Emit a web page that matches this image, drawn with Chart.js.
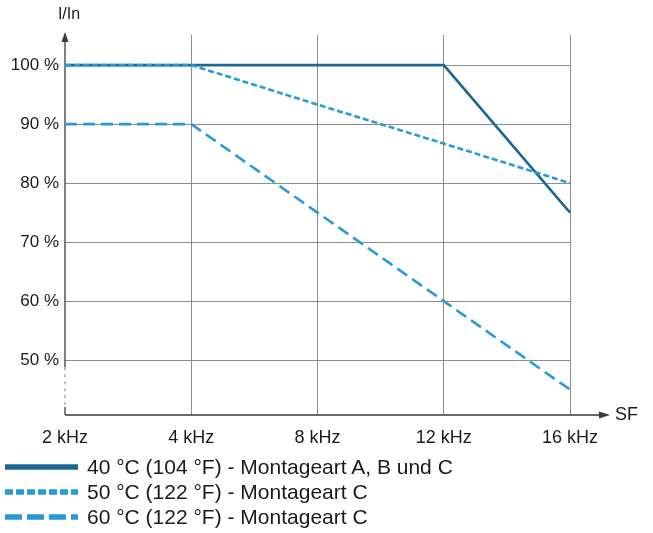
<!DOCTYPE html>
<html>
<head>
<meta charset="utf-8">
<script src="https://cdn.jsdelivr.net/npm/chart.js@4.4.1/dist/chart.umd.min.js"></script>
<style>
  body { margin: 0; background: #fff; font-family: "Liberation Sans", Arial, sans-serif; }
  #wrap { position: relative; width: 653px; height: 533px; }
  #legend { position: absolute; left: 5px; top: 454px; }
  .row { display: flex; align-items: center; height: 25px; font-size: 21px; line-height: 25px; color: #1a1a1a; }
  .row svg { margin-right: 9px; }
</style>
</head>
<body>
<div id="wrap">
  <canvas id="derating" width="653" height="455"></canvas>
  <div id="legend"></div>
</div>
<script>
// --- data ---
const freqLabels = ['2 kHz', '4 kHz', '8 kHz', '12 kHz', '16 kHz'];
const seriesNames = [
    '40 °C (104 °F) - Montageart A, B und C',
    '50 °C (122 °F) - Montageart C',
    '60 °C (122 °F) - Montageart C'
];
const curve40 = [100, 100, 100, 100, 75];
const curve50 = [100, 100, 93.3, 86.7, 80];
const curve60 = [90, 90, 75, 60, 45];
const yTickValues = [50, 60, 70, 80, 90, 100];

// styles per series
const lineColors = ['#1c6893', '#2a9ad4', '#2a9ad4'];
const plotDash = [[], [6, 3], [12, 6]];
const legendDash = ['', '8 3', '17 5'];

const GRID = '#8c8c8c';
const AXIS = '#3a3a3a';
const FONT = '"Liberation Sans", Arial, sans-serif';

// --- axes with arrows + broken y axis ---
const axesPlugin = {
    id: 'axes',
    beforeDatasetsDraw(chart) {
        const ctx = chart.ctx;
        const a = chart.chartArea;
        const y = chart.scales.y;
        const x0 = a.left, yb = a.bottom;
        const breakTop = y.getPixelForValue(48.8);
        const breakBot = yb - 8;
        ctx.save();
        ctx.strokeStyle = AXIS;
        ctx.fillStyle = AXIS;
        ctx.lineWidth = 1.3;
        // y axis, solid part
        ctx.beginPath();
        ctx.moveTo(x0, breakTop);
        ctx.lineTo(x0, a.top + 4);
        ctx.stroke();
        // y axis, break (dotted)
        ctx.setLineDash([3, 4]);
        ctx.strokeStyle = '#9a9a9a';
        ctx.beginPath();
        ctx.moveTo(x0, breakTop);
        ctx.lineTo(x0, breakBot);
        ctx.stroke();
        ctx.setLineDash([]);
        ctx.strokeStyle = AXIS;
        ctx.beginPath();
        ctx.moveTo(x0, breakBot);
        ctx.lineTo(x0, yb);
        ctx.stroke();
        // y arrow
        ctx.beginPath();
        ctx.moveTo(x0, a.top - 3);
        ctx.lineTo(x0 - 3.5, a.top + 7);
        ctx.lineTo(x0 + 3.5, a.top + 7);
        ctx.closePath();
        ctx.fill();
        // x axis
        const xEnd = a.right + 38;
        ctx.beginPath();
        ctx.moveTo(x0, yb);
        ctx.lineTo(xEnd - 6, yb);
        ctx.stroke();
        ctx.beginPath();
        ctx.moveTo(xEnd + 2, yb);
        ctx.lineTo(xEnd - 9, yb - 3.5);
        ctx.lineTo(xEnd - 9, yb + 3.5);
        ctx.closePath();
        ctx.fill();
        // axis titles
        ctx.fillStyle = '#1a1a1a';
        ctx.textBaseline = 'middle';
        ctx.textAlign = 'left';
        ctx.font = '18px ' + FONT;
        ctx.fillText('SF', xEnd + 7, yb);
        ctx.font = '16px ' + FONT;
        ctx.textAlign = 'center';
        ctx.fillText('I/In', x0 + 4, 15);
        ctx.restore();
    }
};

const ctxChart = document.getElementById('derating').getContext('2d');
new Chart(ctxChart, {
    type: 'line',
    data: {
        labels: freqLabels,
        datasets: [
            { label: seriesNames[0], data: curve40, order: 3 },
            { label: seriesNames[1], data: curve50, order: 1 },
            { label: seriesNames[2], data: curve60, order: 2 }
        ].map(function (d, i) {
            return Object.assign(d, {
                borderColor: lineColors[i],
                borderWidth: 2.6,
                borderDash: plotDash[i],
                pointRadius: 0,
                fill: false,
                tension: 0
            });
        })
    },
    options: {
        responsive: false,
        animation: false,
        layout: { padding: { top: 35, right: 83, left: 0, bottom: 0 } },
        plugins: {
            legend: { display: false },
            tooltip: { enabled: false }
        },
        scales: {
            x: {
                offset: false,
                border: { display: false },
                grid: {
                    drawTicks: false,
                    color: function (c) { return c.index === 0 ? 'rgba(0,0,0,0)' : GRID; },
                    lineWidth: 1
                },
                ticks: {
                    padding: 12,
                    color: '#1a1a1a',
                    font: { family: FONT, size: 18 },
                    maxRotation: 0
                },
                afterFit: function (s) { s.height = 40; }
            },
            y: {
                min: 40.7,
                max: 105.1,
                border: { display: false },
                grid: { drawTicks: false, color: GRID, lineWidth: 1 },
                afterBuildTicks: function (s) {
                    s.ticks = yTickValues.map(function (v) { return { value: v }; });
                },
                ticks: {
                    padding: 6,
                    color: '#1a1a1a',
                    font: { family: FONT, size: 17 },
                    callback: function (v) { return v + ' %'; }
                },
                afterFit: function (s) { s.width = 65; }
            }
        }
    },
    plugins: [axesPlugin]
});

// --- legend (html, one row per series) ---
const legendBox = document.getElementById('legend');
seriesNames.forEach(function (name, i) {
    const row = document.createElement('div');
    row.className = 'row';
    row.innerHTML =
        '<svg width="73" height="8"><line x1="0" y1="4" x2="73" y2="4" stroke="' +
        lineColors[i] + '" stroke-width="5.5"' +
        (legendDash[i] ? ' stroke-dasharray="' + legendDash[i] + '"' : '') +
        '/></svg><span>' + name + '</span>';
    legendBox.appendChild(row);
});
</script>
</body>
</html>
